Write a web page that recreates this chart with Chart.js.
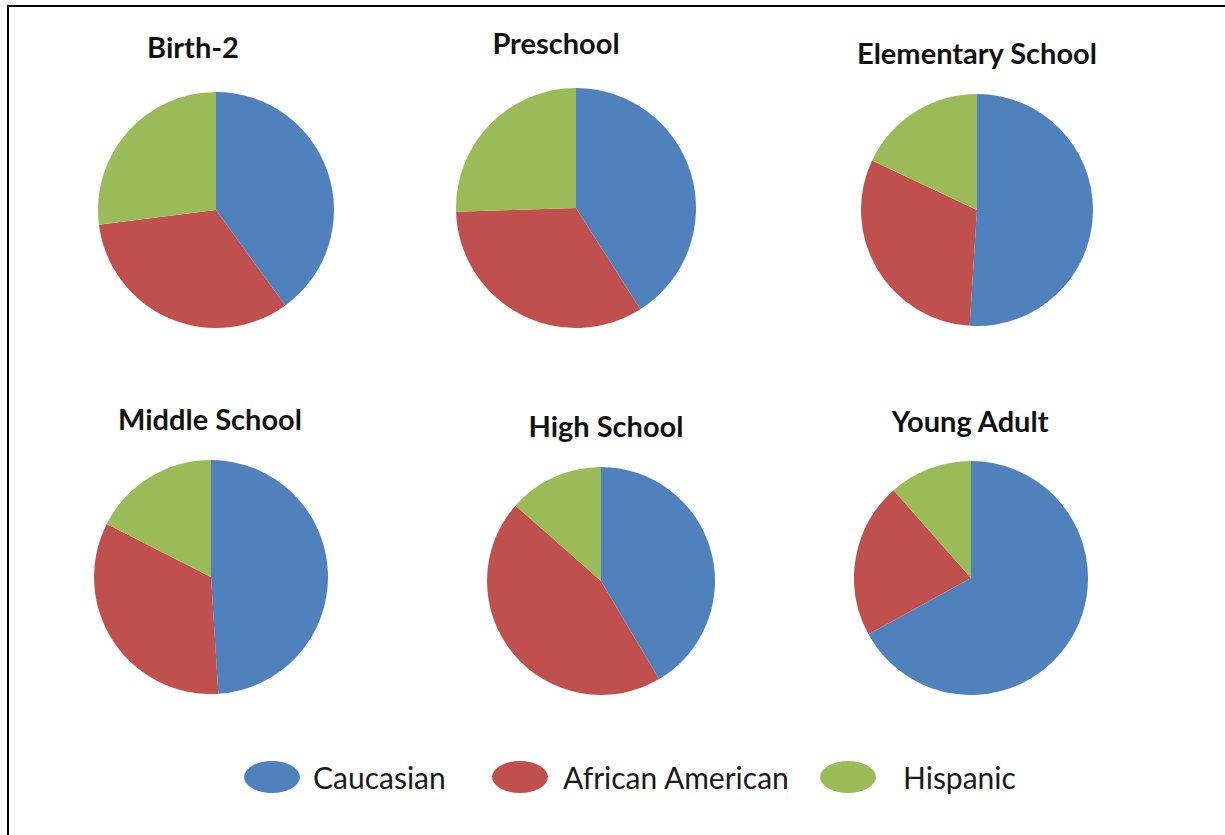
<!DOCTYPE html>
<html>
<head>
<meta charset="utf-8">
<script src="https://cdn.jsdelivr.net/npm/chart.js@4/dist/chart.umd.min.js"></script>
<style>
  body { margin: 0; background: #fff; width: 1225px; height: 835px; overflow: hidden; position: relative; font-family: Lato, "Open Sans", sans-serif; }
  #frame { position: absolute; left: 7px; top: 5px; right: -5px; bottom: -5px; border-top: 2px solid #000; border-left: 2px solid #000; }
  .pie { position: absolute; }
  .ttl { position: absolute; font-weight: bold; font-size: 29px; color: #111; white-space: nowrap; transform: translate(-50%, -50%); }
  .dot { position: absolute; width: 56px; height: 32px; border-radius: 50%; top: 761px; }
  .lbl { position: absolute; font-size: 30px; color: #1a1a1a; white-space: nowrap; top: 777px; transform: translateY(-50%); }
</style>
</head>
<body>
<div id="frame"></div>
<script>
const groups = ['Birth-2', 'Preschool', 'Elementary School', 'Middle School', 'High School', 'Young Adult'];
const races = ['Caucasian', 'African American', 'Hispanic'];
const caucasian = [40, 41, 51, 49, 41.5, 67];
const africanAmerican = [33, 33.5, 31, 33.5, 45, 21.5];
const hispanic = [27, 25.5, 18, 17.5, 13.5, 11.5];
const colors = ['#4F81BD', '#C0504D', '#9BBB59'];

// pie centre, radius, title centre
const layout = [
  {cx: 216, cy: 210, r: 118, tx: 193, ty: 46},
  {cx: 576, cy: 208, r: 120, tx: 556, ty: 42},
  {cx: 977, cy: 210, r: 116, tx: 977, ty: 52},
  {cx: 211, cy: 577, r: 117, tx: 210, ty: 418},
  {cx: 601, cy: 581, r: 114, tx: 606, ty: 425},
  {cx: 971, cy: 578, r: 117, tx: 970, ty: 420}
];

groups.forEach((g, i) => {
  const L = layout[i];
  const t = document.createElement('div');
  t.className = 'ttl';
  t.textContent = g;
  t.style.left = L.tx + 'px';
  t.style.top = L.ty + 'px';
  document.body.appendChild(t);

  const c = document.createElement('canvas');
  c.className = 'pie';
  c.width = c.height = L.r * 2;
  c.style.left = (L.cx - L.r) + 'px';
  c.style.top = (L.cy - L.r) + 'px';
  document.body.appendChild(c);

  new Chart(c.getContext('2d'), {
    type: 'pie',
    data: {
      labels: races,
      datasets: [{
        data: [caucasian[i], africanAmerican[i], hispanic[i]],
        backgroundColor: colors,
        borderWidth: 0
      }]
    },
    options: {
      responsive: false,
      animation: false,
      layout: {padding: 0},
      plugins: {legend: {display: false}, tooltip: {enabled: false}}
    }
  });
});

// legend: ellipse left edge, label left edge
const dotX = [244, 492, 820];
const labelX = [313, 563, 903];
races.forEach((r, i) => {
  const d = document.createElement('div');
  d.className = 'dot';
  d.style.left = dotX[i] + 'px';
  d.style.background = colors[i];
  document.body.appendChild(d);
  const s = document.createElement('div');
  s.className = 'lbl';
  s.style.left = labelX[i] + 'px';
  s.textContent = r;
  document.body.appendChild(s);
});
</script>
</body>
</html>
